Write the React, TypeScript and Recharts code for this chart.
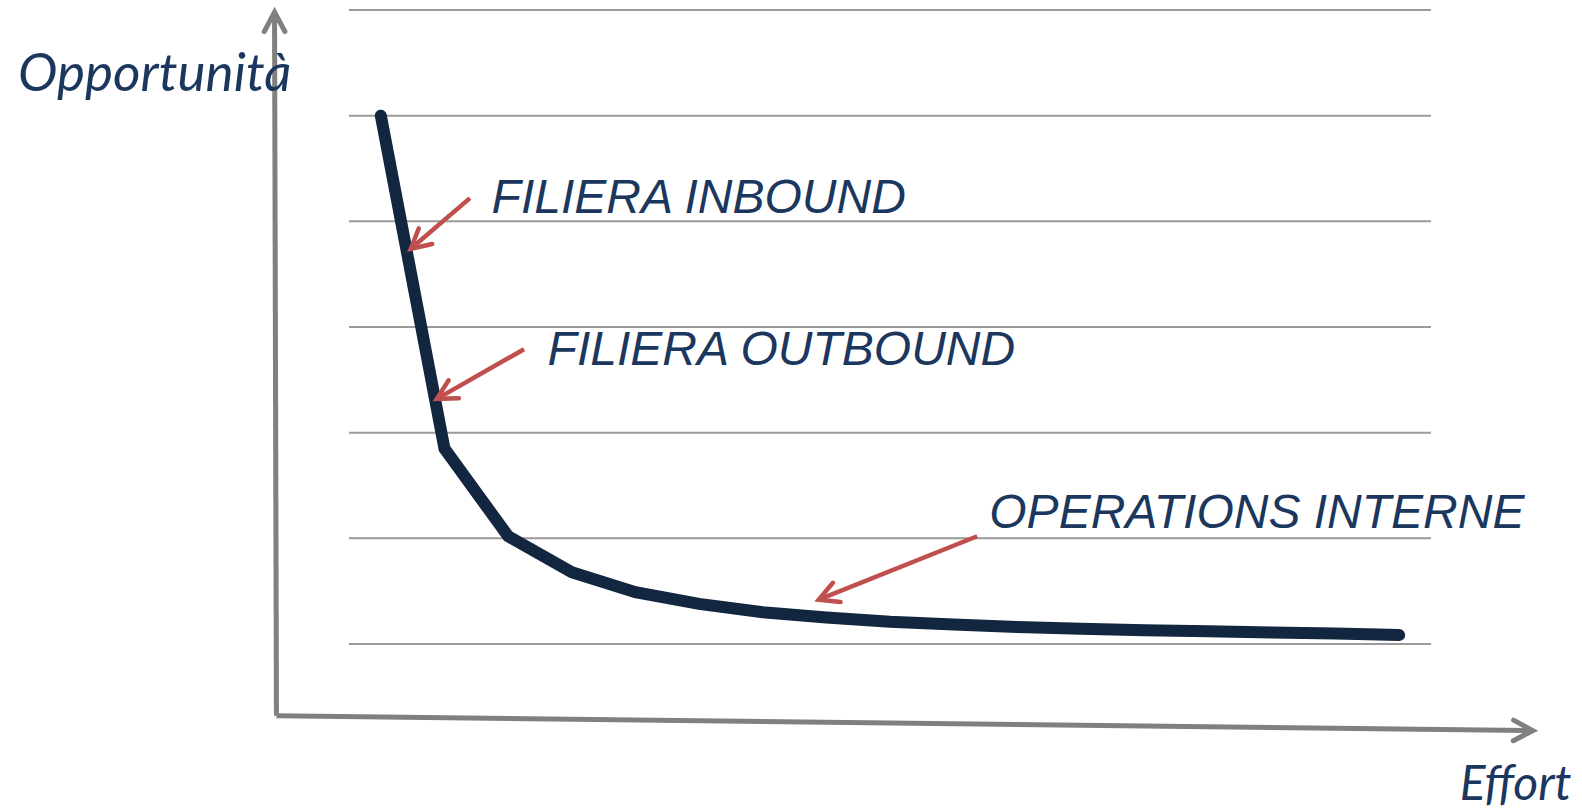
import React from 'react';
import { LineChart, Line, XAxis, YAxis, CartesianGrid, ReferenceLine, ReferenceDot } from 'recharts';

// Data
const effort = [0, 1, 2, 3, 4, 5, 6, 7, 8, 9, 10, 11, 12, 13, 14, 15, 16];
const opportunity = [5.0, 1.85, 1.02, 0.68, 0.49, 0.38, 0.3, 0.25, 0.21, 0.185, 0.16, 0.145, 0.13, 0.12, 0.11, 0.1, 0.085];
const yTicks = [0, 1, 2, 3, 4, 5, 6];

// Annotation labels (data coordinates: left/baseline)
const labelTexts = ['FILIERA INBOUND', 'FILIERA OUTBOUND', 'OPERATIONS INTERNE'];
const labelX = [1.74, 2.62, 9.56];
const labelY = [4.08, 2.64, 1.1];

// Annotation arrows (tail -> tip, data coordinates)
const arrowTailX = [1.4, 2.25, 9.37];
const arrowTailY = [4.22, 2.79, 1.02];
const arrowTipX = [0.47, 0.88, 6.88];
const arrowTipY = [3.74, 2.32, 0.42];

// Axis lines (start -> arrow tip, data coordinates)
const axisStart = { x: -1.64, y: -0.68 };
const yAxisTip = { x: -1.67, y: 5.98 };
const xAxisTip = { x: 18.1, y: -0.82 };

const axisTitles = ['Opportunità', 'Effort'];
const axisTitleX = [-5.7, 16.95];
const axisTitleY = [5.23, -1.476];
const axisTitleSize = [53, 48];

const data = effort.map((e, i) => ({ effort: e, opportunity: opportunity[i] }));

const TEXT_COLOR = '#1B375E';
const ARROW_COLOR = '#C0504D';
const AXIS_COLOR = '#808080';

function makeArrowShape(color: string, width: number, headLen: number) {
  return (props: any) => {
    const { x1, y1, x2, y2 } = props;
    if ([x1, y1, x2, y2].some((v) => typeof v !== 'number' || isNaN(v))) return <g />;
    const ang = Math.atan2(y1 - y2, x1 - x2);
    const spread = (28 * Math.PI) / 180;
    const w1x = x2 + headLen * Math.cos(ang + spread);
    const w1y = y2 + headLen * Math.sin(ang + spread);
    const w2x = x2 + headLen * Math.cos(ang - spread);
    const w2y = y2 + headLen * Math.sin(ang - spread);
    return (
      <g>
        <line x1={x1} y1={y1} x2={x2} y2={y2} stroke={color} strokeWidth={width} strokeLinecap="butt" />
        <polyline
          points={`${w1x},${w1y} ${x2},${y2} ${w2x},${w2y}`}
          fill="none"
          stroke={color}
          strokeWidth={width}
          strokeLinecap="round"
          strokeLinejoin="miter"
        />
      </g>
    );
  };
}

const redArrow = makeArrowShape(ARROW_COLOR, 4.5, 22);
const grayArrow = makeArrowShape(AXIS_COLOR, 5, 22);

function textShape(text: string, size: number, family: string) {
  return (props: any) => (
    <text
      x={props.cx}
      y={props.cy}
      fill={TEXT_COLOR}
      fontSize={size}
      fontStyle="italic"
      fontFamily={family}
      textAnchor="start"
    >
      {text}
    </text>
  );
}

export default function App() {
  return (
    <div style={{ position: 'absolute', left: 0, top: 0, width: 1582, height: 811, overflow: 'hidden', background: '#fff' }}>
      <LineChart width={1582} height={811} data={data} margin={{ top: 10, right: 151, bottom: 167, left: 349 }}>
        <XAxis dataKey="effort" type="number" domain={[-0.5, 16.5]} hide />
        <YAxis type="number" domain={[0, 6]} ticks={yTicks} hide />
        <CartesianGrid horizontal vertical={false} stroke="#9A9A9A" strokeWidth={2} />
        <ReferenceLine segment={[axisStart, yAxisTip]} ifOverflow="visible" shape={grayArrow} />
        <ReferenceLine segment={[axisStart, xAxisTip]} ifOverflow="visible" shape={grayArrow} />
        <Line
          dataKey="opportunity"
          stroke="#12263F"
          strokeWidth={12}
          strokeLinecap="round"
          strokeLinejoin="miter"
          dot={false}
          activeDot={false}
          isAnimationActive={false}
        />
        {labelTexts.map((t, i) => (
          <ReferenceLine
            key={'a' + i}
            segment={[
              { x: arrowTailX[i], y: arrowTailY[i] },
              { x: arrowTipX[i], y: arrowTipY[i] },
            ]}
            ifOverflow="visible"
            shape={redArrow}
          />
        ))}
        {labelTexts.map((t, i) => (
          <ReferenceDot
            key={'l' + i}
            x={labelX[i]}
            y={labelY[i]}
            r={1}
            ifOverflow="visible"
            shape={textShape(t, 48, '"Liberation Sans", Arial, sans-serif')}
          />
        ))}
        {axisTitles.map((t, i) => (
          <ReferenceDot
            key={'t' + i}
            x={axisTitleX[i]}
            y={axisTitleY[i]}
            r={1}
            ifOverflow="visible"
            shape={textShape(t, axisTitleSize[i], 'Lato, sans-serif')}
          />
        ))}
      </LineChart>
    </div>
  );
}
